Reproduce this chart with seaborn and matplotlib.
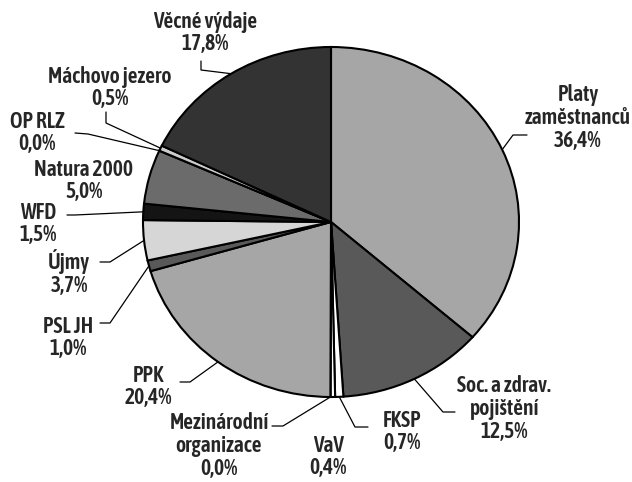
import matplotlib
matplotlib.use("Agg")
import matplotlib.pyplot as plt
from matplotlib import font_manager
import numpy as np
import seaborn as sns

# data (percent of budget), clockwise from 12 o'clock
labels = ["Platy\nzaměstnanců", "Soc. a zdrav.\npojištění", "FKSP", "VaV",
          "Mezinárodní\norganizace", "PPK", "PSL JH", "Újmy", "WFD",
          "Natura 2000", "OP RLZ", "Máchovo jezero", "Věcné výdaje"]
values = [36.4, 12.5, 0.7, 0.4, 0.0, 20.4, 1.0, 3.7, 1.5, 5.0, 0.0, 0.5, 17.8]
colors = ["#a6a6a6", "#595959", "#ffffff", "#ffffff", "#ffffff", "#a6a6a6",
          "#595959", "#d6d6d6", "#141414", "#6b6b6b", "#ffffff", "#cccccc",
          "#333333"]

# label block centres and leader elbows, in image pixels (top-left origin)
text_pos = [(578, 118), (504, 409), (402, 432), (328, 457), (219, 446),
            (148, 387), (68, 338), (69, 273), (38, 224), (84, 181),
            (37, 133), (110, 88), (205, 33)]
leaders = [
    [(527, 135), (513, 135)],
    [(455, 412), (443, 412)],
    [(368, 427), (355, 427)],
    None,
    [(272, 426), (283, 426)],
    [(180, 382), (190, 382)],
    [(100, 323), (110, 323)],
    [(100, 262), (110, 262)],
    [(67, 215), (75, 215)],
    None,
    [(75, 133), (88, 134)],
    [(106, 112), (106, 123)],
    [(201, 61), (201, 70)],
]

W, H = 632, 482
cx, cy, rx, ry = 331, 222, 188, 175

sns.set_theme(style="white")

# look for a condensed face with a bold cut, otherwise plain Liberation Sans
font_kw = dict(family=["Liberation Sans", "DejaVu Sans"], fontsize=12.5,
               linespacing=1.2, fontweight="bold")
narrow = {}
for f in font_manager.fontManager.ttflist:
    if "Narrow" in f.name or "Condensed" in f.name or "Cond" in f.name:
        w = f.weight if isinstance(f.weight, int) else 400
        narrow.setdefault(f.name, set()).add(w)
bold_narrow = sorted(n for n, ws in narrow.items() if max(ws) >= 600)
if bold_narrow:
    name = bold_narrow[0]
    weight = 600 if 600 in narrow[name] else "bold"
    font_kw = dict(family=[name, "DejaVu Sans"], fontsize=15.5,
                   linespacing=1.05, fontweight=weight)

fig = plt.figure(figsize=(W / 100, H / 100), dpi=100)
fig.patch.set_facecolor("white")

# pie axes: elliptical pie, so aspect is left free
ax = fig.add_axes([(cx - rx) / W, (H - cy - ry) / H, 2 * rx / W, 2 * ry / H])
wedges, _ = ax.pie(values, colors=colors, startangle=90, counterclock=False,
                   wedgeprops=dict(edgecolor="black", linewidth=1.5))
for w in wedges:
    w.set_clip_on(False)
ax.set_aspect("auto")
ax.set_xlim(-1, 1)
ax.set_ylim(-1, 1)
ax.axis("off")

# overlay for labels and leader lines, in pixel coords
ov = fig.add_axes([0, 0, 1, 1])
ov.set_xlim(0, W)
ov.set_ylim(H, 0)
ov.axis("off")
ov.patch.set_alpha(0)

fig.canvas.draw()
total = sum(values)
cum = 0.0
txt_color = "#262626"
for lab, val, (tx, ty), lead in zip(labels, values, text_pos, leaders):
    mid = 90 - (cum + val / 2) / total * 360
    cum += val
    a = np.deg2rad(mid)
    disp = ax.transData.transform((np.cos(a), np.sin(a)))
    ex, ey = ov.transData.inverted().transform(disp)
    pct = f"{val:.1f}%".replace(".", ",")
    ov.text(tx, ty, f"{lab}\n{pct}", ha="center", va="center",
            color=txt_color, **font_kw)
    if lead is not None:
        xs = [p[0] for p in lead] + [ex]
        ys = [p[1] for p in lead] + [ey]
        ov.plot(xs, ys, color="black", lw=0.9)

fig.savefig("out.png", dpi=100)
